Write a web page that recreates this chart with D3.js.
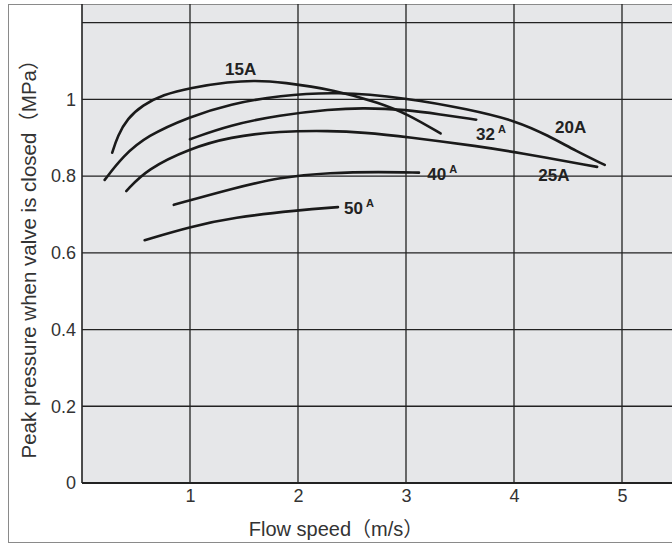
<!DOCTYPE html>
<head>
    <meta charset="utf-8">
    <script src="https://d3js.org/d3.v7.min.js"></script>
    <style>
        body { margin: 0; background: #fff; }
        text { font-family: "Liberation Sans", Arial, "Noto Sans CJK JP", sans-serif; }
    </style>
</head>
<body>
    <svg></svg>
</body>

<script>
    // Curve data: flow speed (m/s) and peak pressure (MPa), one pair per pipe size
    var names = ["15A", "20A", "25A", "32A", "40A", "50A"];

    var speed15A = [0.28, 0.33, 0.42, 0.56, 0.75, 1.0, 1.37, 1.6, 1.85, 2.35, 2.76, 3.01, 3.32];
    var peak15A  = [0.861, 0.905, 0.950, 0.985, 1.012, 1.030, 1.046, 1.049, 1.045, 1.024, 0.990, 0.962, 0.911];

    var speed20A = [0.21, 0.38, 0.6, 1.0, 1.37, 1.83, 2.35, 3.0, 3.58, 4.02, 4.32, 4.57, 4.84];
    var peak20A  = [0.790, 0.852, 0.905, 0.955, 0.988, 1.010, 1.020, 1.004, 0.974, 0.944, 0.905, 0.866, 0.829];

    var speed25A = [0.41, 0.6, 1.0, 1.37, 1.83, 2.3, 2.6, 3.01, 3.69, 4.02, 4.77];
    var peak25A  = [0.761, 0.818, 0.872, 0.902, 0.917, 0.918, 0.914, 0.902, 0.877, 0.862, 0.824];

    var speed32A = [1.0, 1.37, 1.83, 2.3, 2.6, 3.01, 3.31, 3.65];
    var peak32A  = [0.896, 0.933, 0.959, 0.974, 0.978, 0.973, 0.961, 0.947];

    var speed40A = [0.85, 1.4, 1.83, 2.3, 2.76, 3.12];
    var peak40A  = [0.725, 0.768, 0.797, 0.809, 0.811, 0.809];

    var speed50A = [0.58, 1.0, 1.4, 2.0, 2.37];
    var peak50A  = [0.633, 0.668, 0.692, 0.711, 0.719];

    // Ticks
    var xTicks = [1, 2, 3, 4, 5];
    var yTicks = [0, 0.2, 0.4, 0.6, 0.8, 1];
    var yTickLabels = ["0", "0.2", "0.4", "0.6", "0.8", "1"];
    var yGrid = [0.2, 0.4, 0.6, 0.8, 1, 1.2];

    // Curve labels (anchor in data units)
    var labelText  = ["15A", "20A", "25A", "32", "40", "50"];
    var labelSup   = ["", "", "", "A", "A", "A"];
    var labelSpeed = [1.324, 4.38, 4.225, 3.648, 3.197, 2.426];
    var labelPeak  = [1.063, 0.912, 0.786, 0.894, 0.79, 0.702];

    var speeds = [speed15A, speed20A, speed25A, speed32A, speed40A, speed50A];
    var peaks = [peak15A, peak20A, peak25A, peak32A, peak40A, peak50A];

    // Variables
    var width = 672;
    var height = 544;

    var svg = d3.select('svg')
        .attr('width', width)
        .attr('height', height);

    var x = d3.scaleLinear().domain([0, 5]).range([82, 622]);
    var y = d3.scaleLinear().domain([0, 1.2]).range([483, 22.6]);

    // Plot background
    svg.append('rect')
        .attr('x', x(0))
        .attr('y', 4)
        .attr('width', width - x(0))
        .attr('height', y(0) - 4)
        .attr('fill', '#e6e7e9');

    // Outer frame
    svg.append('rect')
        .attr('x', 8.5)
        .attr('y', 4.5)
        .attr('width', 700)
        .attr('height', 538)
        .attr('fill', 'none')
        .attr('stroke', '#8a8a8a');

    // Grid
    svg.append('g').selectAll('line')
        .data(xTicks)
        .enter().append('line')
        .attr('x1', function (d) { return x(d); })
        .attr('x2', function (d) { return x(d); })
        .attr('y1', 4)
        .attr('y2', y(0))
        .attr('stroke', '#222')
        .attr('stroke-width', 1.3);

    svg.append('g').selectAll('line')
        .data(yGrid)
        .enter().append('line')
        .attr('x1', x(0))
        .attr('x2', width)
        .attr('y1', function (d) { return y(d); })
        .attr('y2', function (d) { return y(d); })
        .attr('stroke', '#222')
        .attr('stroke-width', 1.3);

    // Axis lines
    svg.append('line')
        .attr('x1', x(0)).attr('x2', x(0))
        .attr('y1', 4).attr('y2', y(0))
        .attr('stroke', '#222').attr('stroke-width', 1.6);
    svg.append('line')
        .attr('x1', x(0)).attr('x2', width)
        .attr('y1', y(0)).attr('y2', y(0))
        .attr('stroke', '#222').attr('stroke-width', 2.2);

    // Tick labels
    var xAxis = svg.append('g')
        .attr('transform', 'translate(0,' + y(0) + ')')
        .call(d3.axisBottom(x).tickValues(xTicks).tickSize(0).tickPadding(6)
            .tickFormat(d3.format('d')));
    var yAxis = svg.append('g')
        .attr('transform', 'translate(' + x(0) + ',0)')
        .call(d3.axisLeft(y).tickValues(yTicks).tickSize(0).tickPadding(6)
            .tickFormat(function (d, i) { return yTickLabels[i]; }));
    [xAxis, yAxis].forEach(function (a) {
        a.select('.domain').remove();
        a.selectAll('text')
            .attr('font-size', 18)
            .attr('font-family', '"Liberation Sans", Arial, sans-serif')
            .attr('fill', '#333');
    });

    // Axis titles
    svg.append('text')
        .attr('x', 336)
        .attr('y', 536)
        .attr('text-anchor', 'middle')
        .attr('font-size', 20)
        .attr('fill', '#333')
        .text('Flow speed（m/s）');

    svg.append('text')
        .attr('transform', 'translate(36,254) rotate(-90)')
        .attr('text-anchor', 'middle')
        .attr('font-size', 20.5)
        .attr('fill', '#333')
        .text('Peak pressure when valve is closed（MPa）');

    // Curves
    var line = d3.line()
        .x(function (d) { return x(d[0]); })
        .y(function (d) { return y(d[1]); })
        .curve(d3.curveBasis);

    svg.append('g').selectAll('path')
        .data(names)
        .enter().append('path')
        .attr('d', function (d, i) { return line(d3.zip(speeds[i], peaks[i])); })
        .attr('fill', 'none')
        .attr('stroke', '#1a1a1a')
        .attr('stroke-width', 2.6)
        .attr('stroke-linecap', 'round');

    // Curve labels
    var labels = svg.append('g').selectAll('text')
        .data(labelText)
        .enter().append('text')
        .attr('x', function (d, i) { return x(labelSpeed[i]); })
        .attr('y', function (d, i) { return y(labelPeak[i]); })
        .attr('font-size', 17)
        .attr('font-weight', 'bold')
        .attr('fill', '#222');
    labels.append('tspan').text(function (d) { return d; });
    labels.append('tspan')
        .attr('dx', 3)
        .attr('dy', -7)
        .attr('font-size', 11)
        .text(function (d, i) { return labelSup[i]; });
</script>
